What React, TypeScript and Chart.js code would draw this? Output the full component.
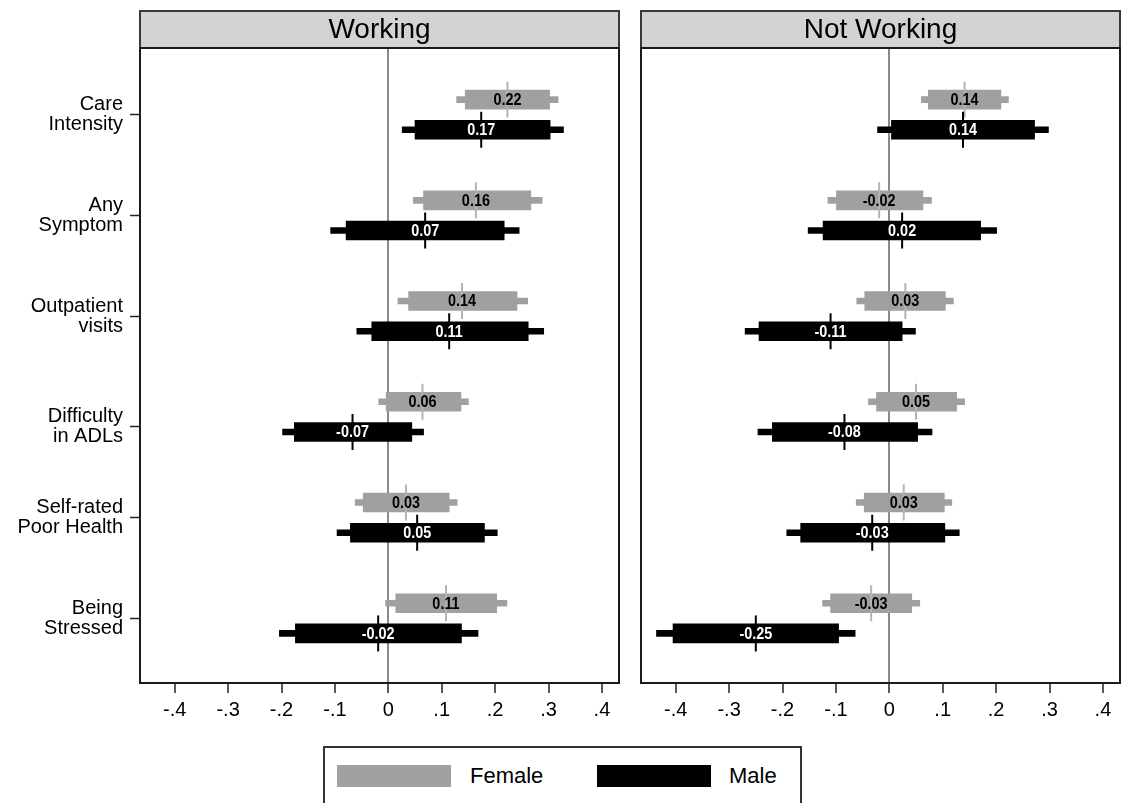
import React, { useEffect, useRef } from "react";
import { Chart, registerables } from "chart.js";

Chart.register(...registerables);

const FONT = "'Liberation Sans', Arial, Helvetica, sans-serif";

// ---------- data ----------
const panelTitles = ["Working", "Not Working"];
const categoryLabels = [
  ["Care", "Intensity"],
  ["Any", "Symptom"],
  ["Outpatient", "visits"],
  ["Difficulty", "in ADLs"],
  ["Self-rated", "Poor Health"],
  ["Being", "Stressed"],
];
const categoryTickPositions = [1, 2, 3, 4.1, 5, 6];
const rowPositions = [1, 2, 3, 4, 5, 6];
const xTickValues = [-0.4, -0.3, -0.2, -0.1, 0, 0.1, 0.2, 0.3, 0.4];
const xTickLabels = ["-.4", "-.3", "-.2", "-.1", "0", ".1", ".2", ".3", ".4"];
const seriesNames = ["Female", "Male"];

// Working
const workFemaleEst = [0.223, 0.164, 0.138, 0.064, 0.033, 0.108];
const workFemaleLo90 = [0.144, 0.066, 0.038, -0.004, -0.047, 0.014];
const workFemaleHi90 = [0.302, 0.267, 0.241, 0.136, 0.114, 0.203];
const workFemaleLo95 = [0.128, 0.047, 0.018, -0.018, -0.062, -0.005];
const workFemaleHi95 = [0.318, 0.288, 0.261, 0.15, 0.129, 0.222];
const workMaleEst = [0.174, 0.069, 0.114, -0.067, 0.054, -0.019];
const workMaleLo90 = [0.05, -0.079, -0.031, -0.176, -0.071, -0.174];
const workMaleHi90 = [0.303, 0.217, 0.262, 0.044, 0.18, 0.137];
const workMaleLo95 = [0.026, -0.108, -0.059, -0.198, -0.096, -0.204];
const workMaleHi95 = [0.328, 0.245, 0.291, 0.066, 0.204, 0.168];

// Not Working
const notFemaleEst = [0.141, -0.019, 0.03, 0.05, 0.027, -0.034];
const notFemaleLo90 = [0.073, -0.099, -0.046, -0.024, -0.047, -0.11];
const notFemaleHi90 = [0.209, 0.063, 0.105, 0.126, 0.103, 0.042];
const notFemaleLo95 = [0.06, -0.115, -0.061, -0.039, -0.062, -0.125];
const notFemaleHi95 = [0.223, 0.079, 0.12, 0.141, 0.117, 0.057];
const notMaleEst = [0.138, 0.024, -0.11, -0.084, -0.032, -0.25];
const notMaleLo90 = [0.004, -0.124, -0.244, -0.219, -0.166, -0.405];
const notMaleHi90 = [0.272, 0.171, 0.024, 0.053, 0.104, -0.095];
const notMaleLo95 = [-0.022, -0.152, -0.27, -0.246, -0.192, -0.436];
const notMaleHi95 = [0.298, 0.201, 0.049, 0.08, 0.131, -0.064];

// ---------- styles ----------
const FEMALE_COLOR = "#a0a0a0";
const FEMALE_TICK = "#b4b4b4";
const MALE_COLOR = "#000000";
const FEMALE_OFFSET = -0.15;
const MALE_OFFSET = 0.15;

const panels = [
  {
    title: panelTitles[0],
    female: { est: workFemaleEst, lo90: workFemaleLo90, hi90: workFemaleHi90, lo95: workFemaleLo95, hi95: workFemaleHi95 },
    male: { est: workMaleEst, lo90: workMaleLo90, hi90: workMaleHi90, lo95: workMaleLo95, hi95: workMaleHi95 },
  },
  {
    title: panelTitles[1],
    female: { est: notFemaleEst, lo90: notFemaleLo90, hi90: notFemaleHi90, lo95: notFemaleLo95, hi95: notFemaleHi95 },
    male: { est: notMaleEst, lo90: notMaleLo90, hi90: notMaleHi90, lo95: notMaleLo95, hi95: notMaleHi95 },
  },
];

function ranges(lo: number[], hi: number[], off: number) {
  return lo.map((l, i) => ({ y: rowPositions[i] + off, x: [l, hi[i]] }));
}
function points(est: number[], off: number) {
  return est.map((e, i) => ({ x: e, y: rowPositions[i] + off }));
}

function buildDatasets(p: any): any[] {
  const bar = (data: any, color: string, thick: number, order: number, label: string) => ({
    type: "bar",
    label,
    indexAxis: "y",
    data,
    backgroundColor: color,
    borderWidth: 0,
    barThickness: thick,
    grouped: false,
    order,
  });
  return [
    bar(ranges(p.female.lo95, p.female.hi95, FEMALE_OFFSET), FEMALE_COLOR, 6, 6, seriesNames[0] + " 95%"),
    bar(ranges(p.female.lo90, p.female.hi90, FEMALE_OFFSET), FEMALE_COLOR, 19, 5, seriesNames[0] + " 90%"),
    bar(ranges(p.male.lo95, p.male.hi95, MALE_OFFSET), MALE_COLOR, 6, 4, seriesNames[1] + " 95%"),
    bar(ranges(p.male.lo90, p.male.hi90, MALE_OFFSET), MALE_COLOR, 19, 3, seriesNames[1] + " 90%"),
    {
      type: "scatter",
      label: seriesNames[0],
      data: points(p.female.est, FEMALE_OFFSET),
      pointStyle: "line",
      pointRotation: 90,
      pointRadius: 18,
      pointHoverRadius: 18,
      pointBorderColor: FEMALE_TICK,
      pointBorderWidth: 2,
      order: 2,
      labelColor: "#000000",
    },
    {
      type: "scatter",
      label: seriesNames[1],
      data: points(p.male.est, MALE_OFFSET),
      pointStyle: "line",
      pointRotation: 90,
      pointRadius: 18,
      pointHoverRadius: 18,
      pointBorderColor: MALE_COLOR,
      pointBorderWidth: 2,
      order: 1,
      labelColor: "#ffffff",
    },
  ];
}

function decorPlugin(title: string) {
  return {
    id: "panelDecor",
    afterDatasetsDraw(chart: any) {
      const ctx = chart.ctx;
      chart.data.datasets.forEach((ds: any, di: number) => {
        if (ds.type !== "scatter") return;
        const meta = chart.getDatasetMeta(di);
        meta.data.forEach((el: any, i: number) => {
          ctx.save();
          ctx.font = `bold 16px ${FONT}`;
          ctx.textAlign = "center";
          ctx.textBaseline = "middle";
          ctx.fillStyle = ds.labelColor;
          ctx.translate(el.x, el.y + 1);
          ctx.scale(0.9, 1);
          ctx.fillText(ds.data[i].x.toFixed(2), 0, 0);
          ctx.restore();
        });
      });
    },
    afterDraw(chart: any) {
      const ctx = chart.ctx;
      const { left, right, top, bottom } = chart.chartArea;
      ctx.save();
      // header strip
      const hTop = top - 37;
      ctx.fillStyle = "#d3d3d3";
      ctx.fillRect(left, hTop, right - left, top - hTop);
      ctx.strokeStyle = "#3a3a3a";
      ctx.lineWidth = 2;
      ctx.strokeRect(left, hTop, right - left, top - hTop);
      ctx.fillStyle = "#000";
      ctx.font = `28px ${FONT}`;
      ctx.textAlign = "center";
      ctx.textBaseline = "middle";
      ctx.fillText(title, (left + right) / 2, (hTop + top) / 2 + 1);
      // frame
      ctx.strokeStyle = "#1a1a1a";
      ctx.lineWidth = 2;
      ctx.strokeRect(left, top, right - left, bottom - top);
      ctx.restore();
    },
  };
}

function buildConfig(idx: number): any {
  const p = panels[idx];
  const isLeft = idx === 0;
  return {
    type: "bar",
    data: { datasets: buildDatasets(p) },
    plugins: [decorPlugin(p.title)],
    options: {
      responsive: false,
      animation: false,
      indexAxis: "y",
      layout: {
        padding: { top: 48, right: 0, bottom: 60, left: 0 },
      },
      plugins: { legend: { display: false }, tooltip: { enabled: false } },
      events: [],
      scales: {
        x: {
          type: "linear",
          position: "bottom",
          min: -0.465,
          max: 0.432,
          offset: false,
          afterBuildTicks: (axis: any) => {
            axis.ticks = xTickValues.map((v) => ({ value: v }));
          },
          afterFit: (s: any) => {
            s.height = 60;
            s.paddingLeft = 0;
            s.paddingRight = 0;
          },
          ticks: {
            autoSkip: false,
            maxRotation: 0,
            color: "#000",
            padding: 5,
            font: { family: FONT, size: 20 },
            callback: (_v: any, i: number) => xTickLabels[i],
          },
          grid: {
            offset: false,
            drawOnChartArea: true,
            drawTicks: true,
            tickLength: 10,
            tickColor: "#222",
            tickWidth: 1.5,
            lineWidth: 2,
            color: (c: any) => (c.tick && c.tick.value === 0 ? "#8a8a8a" : "rgba(0,0,0,0)"),
          },
          border: { display: false },
        },
        y: {
          type: "linear",
          display: isLeft,
          position: "left",
          min: 0.338,
          max: 6.642,
          reverse: true,
          offset: false,
          afterBuildTicks: (axis: any) => {
            axis.ticks = categoryTickPositions.map((v) => ({ value: v }));
          },
          afterFit: (s: any) => {
            s.width = isLeft ? 140 : 0;
            s.paddingTop = 0;
            s.paddingBottom = 0;
          },
          ticks: {
            autoSkip: false,
            color: "#000",
            padding: 7,
            font: { family: FONT, size: 20, lineHeight: 1.0 },
            callback: (_v: any, i: number) => categoryLabels[i],
          },
          grid: {
            offset: false,
            drawOnChartArea: false,
            drawTicks: true,
            tickLength: 10,
            tickColor: "#222",
            tickWidth: 1.5,
          },
          border: { display: false },
        },
      },
    },
  };
}

function PanelChart({ idx, left, width }: { idx: number; left: number; width: number }) {
  const ref = useRef<HTMLCanvasElement>(null);
  useEffect(() => {
    const chart = new Chart(ref.current as HTMLCanvasElement, buildConfig(idx));
    return () => chart.destroy();
  }, [idx]);
  return (
    <canvas
      ref={ref}
      width={width}
      height={803}
      style={{ position: "absolute", left, top: 0, width, height: 803 }}
    />
  );
}

export default function App() {
  const legendText: React.CSSProperties = {
    position: "absolute",
    height: 22,
    lineHeight: "22px",
    fontFamily: FONT,
    fontSize: 22,
    color: "#000",
  };
  // point markers reserve 20px of overflow on each side of the plot area
  return (
    <div
      style={{
        position: "absolute",
        left: 0,
        top: 0,
        width: 1121,
        height: 803,
        overflow: "hidden",
        background: "#fff",
      }}
    >
      <PanelChart idx={0} left={0} width={639} />
      <PanelChart idx={1} left={621} width={519} />
      <div
        style={{
          position: "absolute",
          left: 323,
          top: 746,
          width: 479,
          height: 80,
          border: "2px solid #333",
          boxSizing: "border-box",
          background: "#fff",
        }}
      >
        <div style={{ position: "absolute", left: 12, top: 17, width: 114, height: 22, background: FEMALE_COLOR }} />
        <div style={{ ...legendText, left: 145, top: 17 }}>{seriesNames[0]}</div>
        <div style={{ position: "absolute", left: 272, top: 17, width: 114, height: 22, background: MALE_COLOR }} />
        <div style={{ ...legendText, left: 404, top: 17 }}>{seriesNames[1]}</div>
      </div>
    </div>
  );
}
